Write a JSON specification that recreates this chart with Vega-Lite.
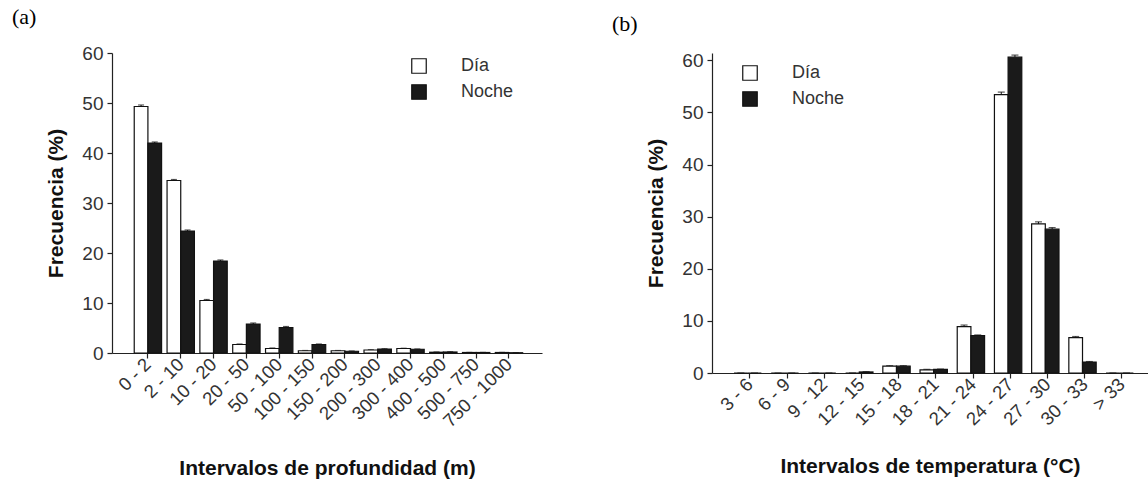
{
  "$schema": "https://vega.github.io/schema/vega-lite/v6.json",
  "padding": {"left": 12, "top": 6, "right": 0, "bottom": 0},
  "background": "white",
  "config": {
    "view": {"stroke": null},
    "font": "Liberation Sans",
    "concat": {"spacing": 70},
    "axis": {
      "domainColor": "#222",
      "tickColor": "#222",
      "labelColor": "#333",
      "titleColor": "#111",
      "labelFont": "Liberation Sans",
      "titleFont": "Liberation Sans",
      "titleFontWeight": "bold",
      "titleFontSize": 21,
      "grid": false,
      "tickSize": 5,
      "domainWidth": 1.2,
      "tickWidth": 1.2
    },
    "title": {"font": "Liberation Serif", "fontSize": 22, "fontWeight": "normal", "color": "#000", "anchor": "start", "frame": "group"},
    "legend": {
      "labelFont": "Liberation Sans",
      "labelFontSize": 18,
      "labelColor": "#333",
      "symbolType": "square",
      "symbolSize": 210,
      "symbolStrokeColor": "#111",
      "symbolStrokeWidth": 1.2,
      "labelOffset": 33,
      "rowPadding": 6,
      "padding": 0
    }
  },
  "datasets": {
    "profundidad": [
      {"intervalo": "0 - 2", "periodo": "Día", "frecuencia": 49.3, "sup": 49.6},
      {"intervalo": "0 - 2", "periodo": "Noche", "frecuencia": 42.0, "sup": 42.2},
      {"intervalo": "2 - 10", "periodo": "Día", "frecuencia": 34.5, "sup": 34.7},
      {"intervalo": "2 - 10", "periodo": "Noche", "frecuencia": 24.4, "sup": 24.6},
      {"intervalo": "10 - 20", "periodo": "Día", "frecuencia": 10.5, "sup": 10.7},
      {"intervalo": "10 - 20", "periodo": "Noche", "frecuencia": 18.4, "sup": 18.6},
      {"intervalo": "20 - 50", "periodo": "Día", "frecuencia": 1.7, "sup": 1.8},
      {"intervalo": "20 - 50", "periodo": "Noche", "frecuencia": 5.8, "sup": 6.0},
      {"intervalo": "50 - 100", "periodo": "Día", "frecuencia": 0.9, "sup": 1.0},
      {"intervalo": "50 - 100", "periodo": "Noche", "frecuencia": 5.1, "sup": 5.3},
      {"intervalo": "100 - 150", "periodo": "Día", "frecuencia": 0.45, "sup": 0.5},
      {"intervalo": "100 - 150", "periodo": "Noche", "frecuencia": 1.7, "sup": 1.8},
      {"intervalo": "150 - 200", "periodo": "Día", "frecuencia": 0.45, "sup": 0.5},
      {"intervalo": "150 - 200", "periodo": "Noche", "frecuencia": 0.35, "sup": 0.4},
      {"intervalo": "200 - 300", "periodo": "Día", "frecuencia": 0.6, "sup": 0.65},
      {"intervalo": "200 - 300", "periodo": "Noche", "frecuencia": 0.8, "sup": 0.85},
      {"intervalo": "300 - 400", "periodo": "Día", "frecuencia": 0.9, "sup": 0.95},
      {"intervalo": "300 - 400", "periodo": "Noche", "frecuencia": 0.75, "sup": 0.8},
      {"intervalo": "400 - 500", "periodo": "Día", "frecuencia": 0.15, "sup": 0.2},
      {"intervalo": "400 - 500", "periodo": "Noche", "frecuencia": 0.2, "sup": 0.25},
      {"intervalo": "500 - 750", "periodo": "Día", "frecuencia": 0.1, "sup": 0.12},
      {"intervalo": "500 - 750", "periodo": "Noche", "frecuencia": 0.1, "sup": 0.12},
      {"intervalo": "750 - 1000", "periodo": "Día", "frecuencia": 0.1, "sup": 0.12},
      {"intervalo": "750 - 1000", "periodo": "Noche", "frecuencia": 0.05, "sup": 0.06}
    ],
    "temperatura": [
      {"intervalo": "3 - 6", "periodo": "Día", "frecuencia": 0, "sup": 0},
      {"intervalo": "3 - 6", "periodo": "Noche", "frecuencia": 0, "sup": 0},
      {"intervalo": "6 - 9", "periodo": "Día", "frecuencia": 0, "sup": 0},
      {"intervalo": "6 - 9", "periodo": "Noche", "frecuencia": 0, "sup": 0},
      {"intervalo": "9 - 12", "periodo": "Día", "frecuencia": 0, "sup": 0},
      {"intervalo": "9 - 12", "periodo": "Noche", "frecuencia": 0, "sup": 0},
      {"intervalo": "12 - 15", "periodo": "Día", "frecuencia": 0, "sup": 0},
      {"intervalo": "12 - 15", "periodo": "Noche", "frecuencia": 0.2, "sup": 0.25},
      {"intervalo": "15 - 18", "periodo": "Día", "frecuencia": 1.3, "sup": 1.4},
      {"intervalo": "15 - 18", "periodo": "Noche", "frecuencia": 1.3, "sup": 1.4},
      {"intervalo": "18 - 21", "periodo": "Día", "frecuencia": 0.6, "sup": 0.7},
      {"intervalo": "18 - 21", "periodo": "Noche", "frecuencia": 0.7, "sup": 0.75},
      {"intervalo": "21 - 24", "periodo": "Día", "frecuencia": 8.9, "sup": 9.2},
      {"intervalo": "21 - 24", "periodo": "Noche", "frecuencia": 7.2, "sup": 7.3},
      {"intervalo": "24 - 27", "periodo": "Día", "frecuencia": 53.4, "sup": 53.9},
      {"intervalo": "24 - 27", "periodo": "Noche", "frecuencia": 60.6, "sup": 61.0},
      {"intervalo": "27 - 30", "periodo": "Día", "frecuencia": 28.6, "sup": 29.0},
      {"intervalo": "27 - 30", "periodo": "Noche", "frecuencia": 27.6, "sup": 27.9},
      {"intervalo": "30 - 33", "periodo": "Día", "frecuencia": 6.8, "sup": 7.0},
      {"intervalo": "30 - 33", "periodo": "Noche", "frecuencia": 2.1, "sup": 2.2},
      {"intervalo": "> 33", "periodo": "Día", "frecuencia": 0, "sup": 0},
      {"intervalo": "> 33", "periodo": "Noche", "frecuencia": 0, "sup": 0}
    ]
  },
  "hconcat": [
    {
      "title": {"text": "(a)", "dx": -100, "offset": 15},
      "width": 430,
      "height": 300,
      "data": {"name": "profundidad"},
      "encoding": {
        "x": {
          "field": "intervalo", "type": "nominal", "sort": null,
          "scale": {"paddingInner": 0, "paddingOuter": 0.55, "align": 0.54},
          "axis": {"title": "Intervalos de profundidad (m)", "labelAngle": -45, "labelAlign": "right", "labelBaseline": "middle", "labelFontSize": 18.5, "labelPadding": 3, "tickSize": 5, "titlePadding": 27}
        },
        "xOffset": {"field": "periodo", "type": "nominal", "sort": ["Día", "Noche"], "scale": {"paddingInner": 0, "paddingOuter": 0.2}}
      },
      "layer": [
        {
          "mark": {"type": "rule", "color": "#111", "strokeWidth": 1},
          "encoding": {
            "y": {"field": "frecuencia", "type": "quantitative"},
            "y2": {"field": "sup"}
          }
        },
        {
          "mark": {"type": "tick", "color": "#111", "thickness": 1.2, "size": 6, "orient": "horizontal"},
          "encoding": {"y": {"field": "sup", "type": "quantitative"}}
        },
        {
          "mark": {"type": "bar", "stroke": "#111", "strokeWidth": 1.2},
          "encoding": {
            "y": {
              "field": "frecuencia", "type": "quantitative",
              "scale": {"domain": [0, 60], "nice": false},
              "axis": {"title": "Frecuencia (%)", "values": [0, 10, 20, 30, 40, 50, 60], "labelFontSize": 19, "labelPadding": 4, "titlePadding": 15}
            },
            "fill": {
              "field": "periodo", "type": "nominal",
              "scale": {"domain": ["Día", "Noche"], "range": ["#ffffff", "#1a1a1a"]},
              "legend": {"title": null, "orient": "none", "legendX": 298, "legendY": 4}
            }
          }
        }
      ]
    },
    {
      "title": {"text": "(b)", "dx": -100, "offset": 15},
      "width": 436,
      "height": 320,
      "data": {"name": "temperatura"},
      "encoding": {
        "x": {
          "field": "intervalo", "type": "nominal", "sort": null,
          "scale": {"paddingInner": 0, "paddingOuter": 0.36, "align": 0.72},
          "axis": {"title": "Intervalos de temperatura (°C)", "labelAngle": -45, "labelAlign": "right", "labelBaseline": "middle", "labelFontSize": 18.5, "labelPadding": 3, "tickSize": 5, "titlePadding": 27}
        },
        "xOffset": {"field": "periodo", "type": "nominal", "sort": ["Día", "Noche"], "scale": {"paddingInner": 0, "paddingOuter": 0.2}}
      },
      "layer": [
        {
          "mark": {"type": "rule", "color": "#111", "strokeWidth": 1},
          "encoding": {
            "y": {"field": "frecuencia", "type": "quantitative"},
            "y2": {"field": "sup"}
          }
        },
        {
          "mark": {"type": "tick", "color": "#111", "thickness": 1.2, "size": 7, "orient": "horizontal"},
          "encoding": {"y": {"field": "sup", "type": "quantitative"}}
        },
        {
          "mark": {"type": "bar", "stroke": "#111", "strokeWidth": 1.2},
          "encoding": {
            "y": {
              "field": "frecuencia", "type": "quantitative",
              "scale": {"domain": [0, 61.4], "nice": false},
              "axis": {"title": "Frecuencia (%)", "values": [0, 10, 20, 30, 40, 50, 60], "labelFontSize": 19, "labelPadding": 4, "titlePadding": 15}
            },
            "fill": {
              "field": "periodo", "type": "nominal",
              "scale": {"domain": ["Día", "Noche"], "range": ["#ffffff", "#1a1a1a"]},
              "legend": {"title": null, "orient": "none", "legendX": 29, "legendY": 11}
            }
          }
        }
      ]
    }
  ],
  "resolve": {"scale": {"fill": "independent"}, "legend": {"fill": "independent"}}
}
